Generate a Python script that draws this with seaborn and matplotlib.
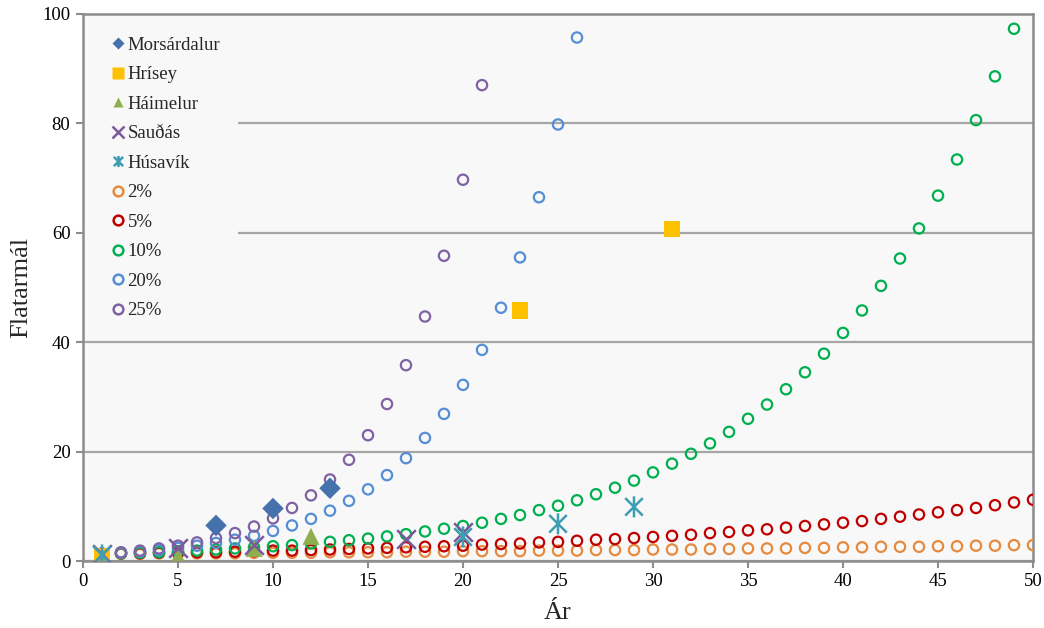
import matplotlib
matplotlib.use("Agg")
import matplotlib.pyplot as plt
import seaborn as sns
import numpy as np
from matplotlib.path import Path
from matplotlib.lines import Line2D
from matplotlib.patches import Rectangle

# ---------------- data ----------------
morsardalur_x = [7, 10, 13]
morsardalur_y = [6.5, 9.6, 13.3]

hrisey_x = [1, 23, 31]
hrisey_y = [0.9, 45.8, 60.7]

haimelur_x = [1, 5, 9, 12]
haimelur_y = [0.5, 0.8, 2.3, 4.5]

saudas_x = [1, 5, 9, 17, 20]
saudas_y = [1.2, 2.4, 2.9, 4.0, 5.3]

husavik_x = [1, 20, 25, 29]
husavik_y = [1.1, 4.4, 6.8, 9.9]

years_50 = list(range(1, 51))
rate2_y = [1.3, 1.3, 1.3, 1.4, 1.4, 1.4, 1.4, 1.4, 1.5, 1.5,
           1.5, 1.5, 1.6, 1.6, 1.6, 1.6, 1.7, 1.7, 1.7, 1.8,
           1.8, 1.8, 1.8, 1.9, 1.9, 1.9, 2.0, 2.0, 2.0, 2.1,
           2.1, 2.1, 2.2, 2.2, 2.3, 2.3, 2.3, 2.4, 2.4, 2.5,
           2.5, 2.6, 2.6, 2.6, 2.7, 2.7, 2.8, 2.8, 2.9, 2.9]
rate5_y = [1.3, 1.4, 1.4, 1.5, 1.5, 1.6, 1.6, 1.7, 1.8, 1.9,
           1.9, 2.0, 2.1, 2.2, 2.3, 2.4, 2.5, 2.6, 2.7, 2.8,
           3.0, 3.1, 3.2, 3.4, 3.5, 3.7, 3.9, 4.0, 4.2, 4.4,
           4.6, 4.8, 5.1, 5.3, 5.6, 5.8, 6.1, 6.4, 6.7, 7.0,
           7.3, 7.7, 8.1, 8.5, 8.9, 9.3, 9.7, 10.2, 10.7, 11.2]
years_49 = list(range(1, 50))
rate10_y = [1.3, 1.4, 1.5, 1.6, 1.8, 1.9, 2.1, 2.3, 2.5, 2.7,
            2.9, 3.2, 3.5, 3.8, 4.1, 4.5, 4.9, 5.4, 5.9, 6.4,
            7.0, 7.7, 8.4, 9.3, 10.1, 11.1, 12.2, 13.4, 14.7, 16.2,
            17.8, 19.6, 21.5, 23.6, 26.0, 28.6, 31.4, 34.5, 37.9, 41.7,
            45.8, 50.3, 55.3, 60.8, 66.8, 73.4, 80.6, 88.6, 97.3]
years_26 = list(range(1, 27))
rate20_y = [1.3, 1.5, 1.7, 2.0, 2.4, 2.8, 3.3, 3.9, 4.6, 5.5,
            6.5, 7.7, 9.2, 11.0, 13.1, 15.7, 18.8, 22.5, 26.9, 32.2,
            38.6, 46.3, 55.5, 66.5, 79.8, 95.7]
years_21 = list(range(1, 22))
rate25_y = [1.4, 1.6, 1.9, 2.3, 2.8, 3.4, 4.2, 5.1, 6.3, 7.8,
            9.7, 12.0, 14.9, 18.5, 23.0, 28.7, 35.8, 44.7, 55.8, 69.7,
            87.0]

x_ticks = [0, 5, 10, 15, 20, 25, 30, 35, 40, 45, 50]
y_ticks = [0, 20, 40, 60, 80, 100]

# ---------------- style ----------------
sns.set_style("white")
plt.rcParams["font.family"] = ["Liberation Serif", "DejaVu Serif"]

GRID = "#A6A6A6"
SPINE = "#8C8C8C"
BG = "#F8F8F8"

c_mors = "#4672AC"
c_hris = "#FFC000"
c_haim = "#8FAF4F"
c_saud = "#7A5A9C"
c_husa = "#3E9CB3"
c_2 = "#E58A3F"
c_5 = "#C00000"
c_10 = "#00B050"
c_20 = "#558ED5"
c_25 = "#7F62A3"

star_path = Path(
    [(-1, -1), (1, 1), (-1, 1), (1, -1), (0, -1.2), (0, 1.2)],
    [Path.MOVETO, Path.LINETO, Path.MOVETO, Path.LINETO, Path.MOVETO, Path.LINETO],
)

fig = plt.figure(figsize=(10.44, 6.28), dpi=100)
fig.patch.set_facecolor("white")
ax = fig.add_axes([83 / 1044, 1 - 561 / 628, (1033 - 83) / 1044, (561 - 14) / 628])
ax.set_facecolor(BG)

circle_kw = dict(marker="o", s=55, facecolor="none", linewidth=1.6, zorder=3)
sns.scatterplot(x=years_50, y=rate2_y, ax=ax, color=c_2, edgecolor=c_2, **circle_kw)
sns.scatterplot(x=years_50, y=rate5_y, ax=ax, color=c_5, edgecolor=c_5, **circle_kw)
sns.scatterplot(x=years_49, y=rate10_y, ax=ax, color=c_10, edgecolor=c_10, **circle_kw)
sns.scatterplot(x=years_26, y=rate20_y, ax=ax, color=c_20, edgecolor=c_20, **circle_kw)
sns.scatterplot(x=years_21, y=rate25_y, ax=ax, color=c_25, edgecolor=c_25, **circle_kw)

sns.scatterplot(x=morsardalur_x, y=morsardalur_y, ax=ax, color=c_mors, marker="D",
                s=120, edgecolor="none", zorder=4)
sns.scatterplot(x=hrisey_x, y=hrisey_y, ax=ax, color=c_hris, marker="s",
                s=140, edgecolor="none", zorder=4)
sns.scatterplot(x=haimelur_x, y=haimelur_y, ax=ax, color=c_haim, marker="^",
                s=150, edgecolor="none", zorder=4)
sns.scatterplot(x=saudas_x, y=saudas_y, ax=ax, color=c_saud, marker="x",
                s=180, edgecolor=None, linewidth=1.8, zorder=5)
sns.scatterplot(x=husavik_x, y=husavik_y, ax=ax, color=c_husa, marker=star_path,
                s=230, facecolor="none", edgecolor=c_husa, linewidth=1.8, zorder=5)

ax.set_xlim(0, 50)
ax.set_ylim(0, 100)
ax.set_xticks(x_ticks)
ax.set_yticks(y_ticks)
ax.yaxis.grid(True, color=GRID, linewidth=1.6, zorder=0)
ax.xaxis.grid(False)
ax.set_axisbelow(True)

for sp in ax.spines.values():
    sp.set_visible(True)
    sp.set_color(SPINE)
    sp.set_linewidth(1.8)

ax.tick_params(axis="both", direction="out", length=5, width=1.5, color=SPINE,
               labelsize=13.5, labelcolor="black", pad=4)
ax.tick_params(axis="x", bottom=True)
ax.tick_params(axis="y", left=True)

ax.set_xlabel("Ár", fontsize=19, labelpad=8)
ax.set_ylabel("Flatarmál", fontsize=19, labelpad=7)

# legend background area (covers grid lines like the reference)
ax.add_patch(Rectangle((0, (561 - 332) / 547), (238 - 83) / 950, 1 - (561 - 332) / 547,
                       transform=ax.transAxes, facecolor=BG, edgecolor="none",
                       zorder=1.5))

handles = [
    Line2D([], [], linestyle="none", marker="D", markersize=6, color=c_mors, mec="none"),
    Line2D([], [], linestyle="none", marker="s", markersize=9, color=c_hris, mec="none"),
    Line2D([], [], linestyle="none", marker="^", markersize=7, color=c_haim, mec="none"),
    Line2D([], [], linestyle="none", marker="x", markersize=8, color=c_saud, mew=1.8),
    Line2D([], [], linestyle="none", marker=star_path, markersize=8, mfc="none", mec=c_husa, mew=1.8),
    Line2D([], [], linestyle="none", marker="o", markersize=7, mfc="none", mec=c_2, mew=1.8),
    Line2D([], [], linestyle="none", marker="o", markersize=7, mfc="none", mec=c_5, mew=1.8),
    Line2D([], [], linestyle="none", marker="o", markersize=7, mfc="none", mec=c_10, mew=1.8),
    Line2D([], [], linestyle="none", marker="o", markersize=7, mfc="none", mec=c_20, mew=1.8),
    Line2D([], [], linestyle="none", marker="o", markersize=7, mfc="none", mec=c_25, mew=1.8),
]
labels = ["Morsárdalur", "Hrísey", "Háimelur", "Sauðás", "Húsavík",
          "2%", "5%", "10%", "20%", "25%"]
leg = ax.legend(handles, labels, loc="upper left",
                bbox_to_anchor=((106 - 83) / 950, (561 - 29) / 547),
                fontsize=13.5, frameon=False, handlelength=0.5, handletextpad=0.25,
                labelspacing=0.66, borderpad=0.4, borderaxespad=0)
leg.set_zorder(2.5)

fig.savefig("out.png", dpi=100, facecolor="white")
